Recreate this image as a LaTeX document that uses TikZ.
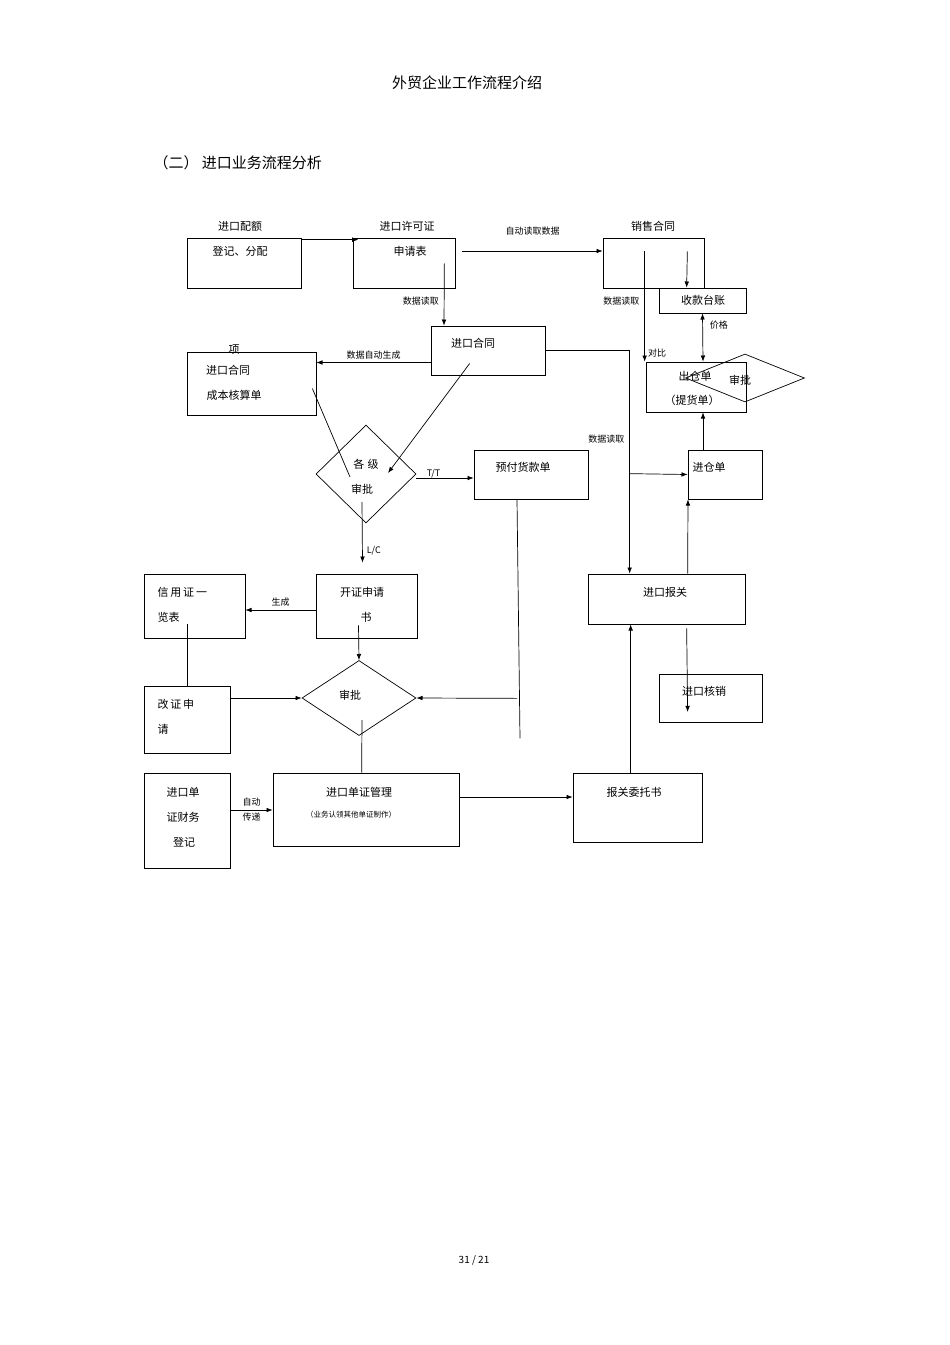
\documentclass[tikz,border=0pt]{standalone}
\usepackage{fontspec}
\setmainfont{Noto Sans CJK SC}
\usetikzlibrary{positioning,arrows.meta,shapes.geometric,fit,calc}
\begin{document}
\begin{tikzpicture}[x=1pt, y=-1pt, >=Latex, every node/.style={font=\fontsize{11}{13}\selectfont}]
\tikzstyle{box}=[draw, rectangle, inner sep=0pt, line width=0.7pt]
\tikzstyle{dia}=[draw, diamond, inner sep=0pt, line width=0.7pt]
\tikzstyle{lbl}=[font=\fontsize{9}{11}\selectfont, inner sep=1pt]
\tikzstyle{link}=[line width=0.7pt]
\useasboundingbox (0,0) rectangle (950,1345);

% Headings
\node at (467,83) {\fontsize{15}{18}\selectfont 外贸企业工作流程介绍};
\node[anchor=west] at (150,163) {\fontsize{15}{18}\selectfont （二） 进口业务流程分析};
\node at (474,1260) {\fontsize{10}{12}\selectfont 31 / 21};

% Boxes
\node[box, fit={(187,238) (301,288)}] (quota) {};
\node[box, fit={(353,238) (455,288)}] (lic) {};
\node[box, fit={(603,238) (704,288)}] (sales) {};
\node[box, fit={(659,288) (746,313)}] (ledger) {};
\node[box, fit={(431,326) (545,375)}] (contract) {};
\node[box, fit={(187,352) (316,415)}] (cost) {};
\node[box, fit={(474,450) (588,499)}] (prepay) {};
\node[box, fit={(646,362) (746,412)}] (out) {};
\node[box, fit={(688,450) (762,499)}] (store) {};
\node[box, fit={(588,574) (745,624)}] (customs) {};
\node[box, fit={(659,674) (762,722)}] (verify) {};
\node[box, fit={(316,574) (417,638)}] (lcapp) {};
\node[box, fit={(144,574) (245,638)}] (lclist) {};
\node[box, fit={(144,686) (230,753)}] (amend) {};
\node[box, fit={(273,773) (459,846)}] (docs) {};
\node[box, fit={(144,773) (230,868)}] (finance) {};
\node[box, fit={(573,773) (702,842)}] (entrust) {};

% Diamonds
\node[dia, minimum width=100pt, minimum height=98pt] (appr) at (366,474) {};
\node[dia, minimum width=119pt, minimum height=48pt] (outappr) at (745,378) {};
\node[dia, minimum width=114pt, minimum height=75pt] (appr2) at (359,698) {};

% Texts
\node at (240,226) {进口配额};
\node at (240,251) {登记、分配};
\node at (407,226) {进口许可证};
\node at (410,251) {申请表};
\node at (653,226) {销售合同};
\node at (703,300) {收款台账};
\node at (473,343) {进口合同};
\node at (234,350) {项};
\node at (228,370) {进口合同};
\node at (234,395) {成本核算单};
\node at (366,464) {各\;级};
\node at (362,489) {审批};
\node at (523,467) {预付货款单};
\node at (695,376) {出仓单};
\node at (692,400) {（提货单）};
\node at (740,380) {审批};
\node at (709,467) {进仓单};
\node at (665,592) {进口报关};
\node at (704,691) {进口核销};
\node at (362,592) {开证申请};
\node at (366,617) {书};
\node[anchor=west] at (154,592) {信\,用\,证\,一};
\node[anchor=west] at (154,617) {览表};
\node[anchor=west] at (154,704) {改\,证\,申};
\node[anchor=west] at (154,729) {请};
\node at (350,695) {审批};
\node at (183,792) {进口单};
\node at (183,817) {证财务};
\node at (184,842) {登记};
\node at (359,792) {进口单证管理};
\node[font=\fontsize{7.5}{9}\selectfont] at (351,815) {（业务认领其他单证制作）};
\node at (634,792) {报关委托书};

% Connectors
\draw[link,->] (quota.north east) ++(0,2) -- ++(57,0) coordinate (q1);
\draw[link,->] ($(lic.east)+(7,-12)$) -- node[lbl, above=14pt] {自动读取数据} ($(sales.west)+(0,-12)$);
\draw[link,->] ($(lic.south east)+(-11,-25)$) -- node[lbl, pos=0.6, left=4pt] {数据读取} ($(contract.north)+(-44,0)$);
\draw[link,->] ($(contract.west)+(0,12)$) -- node[lbl, above=2pt] {数据自动生成} ($(cost.east)+(0,-21)$);
\draw[link,->] ($(contract.west)+(39,13)$) -- ($(appr.center)+(22,-1)$);
\draw[link] ($(cost.east)+(-4,5)$) -- ($(appr.center)+(-16,3)$);
\draw[link,->] ($(appr.east)+(0,4)$) -- node[lbl, pos=0.3, above=-1pt] {T/T} ($(prepay.west)+(0,3.5)$);
\draw[link,->] ($(appr.center)+(-4,28)$) -- node[lbl, pos=0.8, right=3pt] {L/C} ($(lcapp.north)+(-4,-11)$);
\draw[link,->] ($(contract.east)+(0,-0.5)$) -| node[lbl, pos=0.7, left=4pt] {数据读取} ($(customs.north west)+(42,0)$);
\draw[link,->] ($(customs.north west)+(42,-100)$) -- (store.west);
\draw[link,->] ($(sales.south west)+(42,-37)$) -- node[lbl, pos=0.45, left=4pt] {数据读取} node[lbl, pos=0.92, right=2pt] {对比} ($(out.north west)+(-1,0)$);
\draw[link,->] ($(sales.south east)+(-17,-37)$) -- ($(ledger.north west)+(28,0)$);
\draw[link,<->] ($(ledger.south)+(0,0)$) -- node[lbl, pos=0.25, right=6pt] {价格} ($(out.north)+(7,0)$);
\draw[link,->] ($(store.north)+(-22,0)$) -- ($(out.south)+(7,0)$);
\draw[link,->] ($(customs.north west)+(100,0)$) -- ($(store.south)+(-37,0)$);
\draw[link,->] ($(customs.south west)+(99,4)$) -- ($(verify.west)+(29,14)$);
\draw[link,->] ($(entrust.north west)+(58,0)$) -- ($(customs.south west)+(43,0)$);
\draw[link,->] ($(docs.east)+(0,-12.5)$) -- ($(entrust.west)+(0,-10.5)$);
\draw[link,->] ($(finance.east)+(0,-10.5)$) -- node[lbl, above=2pt] {自动} node[lbl, below=2pt] {传递} ($(docs.west)+(0,0.5)$);
\draw[link,->] ($(lcapp.west)+(0,4)$) -- node[lbl, above=2pt] {生成} ($(lclist.east)+(0,4)$);
\draw[link,->] ($(lcapp.south)+(-8,-13)$) -- (appr2.north);
\draw[link] ($(lclist.south west)+(44,-14)$) -- ($(amend.north west)+(44,0)$);
\draw[link,->] (amend.east |- appr2.west) -- (appr2.west);
\draw[link] ($(prepay.south)+(-14,0)$) -- ($(prepay.south)+(-11,239)$);
\draw[link,->] ($(prepay.south)+(-14,199)$) -- (appr2.east);
\draw[link] ($(appr2.center)+(3,22)$) -- ($(docs.north west)+(89,0)$);
\end{tikzpicture}
\end{document}
